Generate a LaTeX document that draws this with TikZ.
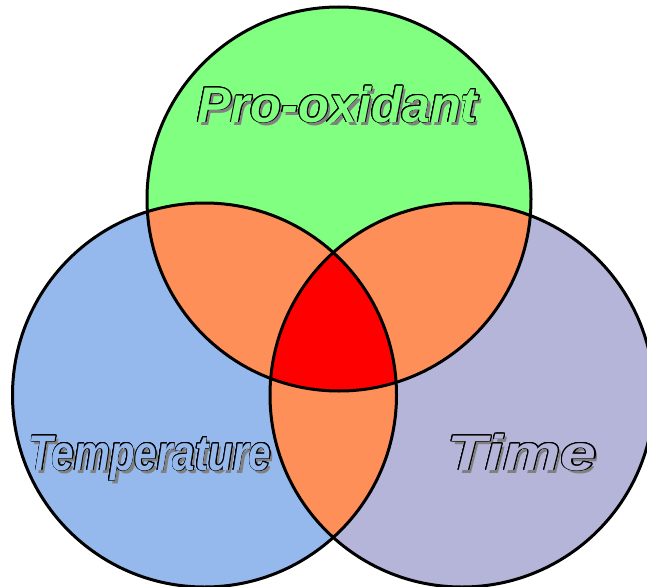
\documentclass[tikz,border=0pt]{standalone}
\usepackage{fontspec}
\setmainfont{Liberation Sans}
\usepackage{contour}
\contourlength{0.9pt}
\contournumber{16}
\definecolor{cgreen}{RGB}{128,255,128}
\definecolor{cblue}{RGB}{149,185,236}
\definecolor{cpurple}{RGB}{181,181,217}
\definecolor{corange}{RGB}{255,143,89}
\definecolor{cred}{RGB}{255,0,0}
\definecolor{cshadow}{RGB}{128,128,128}
\tikzset{
  wordart/.style={font=\fontsize{50}{50}\selectfont\bfseries\itshape, inner sep=0pt, anchor=base, transform shape},
  ring/.style={draw=black, line width=3pt},
}
\begin{document}
\begin{tikzpicture}[x=1pt,y=-1pt]
\useasboundingbox (0,0) rectangle (647,586);
\coordinate (G) at (339,199);
\coordinate (B) at (204.5,395);
\coordinate (P) at (462,395);
\def\R{192pt}
% base fills
\fill[cblue] (B) circle[radius=\R];
\fill[cpurple] (P) circle[radius=\R];
\fill[cgreen] (G) circle[radius=\R];
% pairwise overlaps
\begin{scope}
  \clip (G) circle[radius=\R];
  \fill[corange] (B) circle[radius=\R];
  \fill[corange] (P) circle[radius=\R];
  \clip (B) circle[radius=\R];
  \fill[cred] (P) circle[radius=\R];
\end{scope}
\begin{scope}
  \clip (B) circle[radius=\R];
  \fill[corange] (P) circle[radius=\R];
  \clip (G) circle[radius=\R];
  \fill[cred] (P) circle[radius=\R];
\end{scope}
% outlines
\draw[ring] (G) circle[radius=\R];
\draw[ring] (B) circle[radius=\R];
\draw[ring] (P) circle[radius=\R];
% labels: shadow then outlined text
\node[wordart, text=cshadow, xscale=1.01] (proS) at (340.5,125) {Pro-oxidant};
\node[wordart, text=cgreen, xscale=1.01] (pro) at (337.5,122) {\contour{black}{Pro-oxidant}};
\node[wordart, text=cshadow, xscale=0.805] (tempS) at (153,473) {Temperature};
\node[wordart, text=cblue, xscale=0.805] (temp) at (150,470) {\contour{black}{Temperature}};
\node[wordart, text=cshadow, xscale=1.29] (timeS) at (525,473) {Time};
\node[wordart, text=cpurple, xscale=1.29] (time) at (522,470) {\contour{black}{Time}};
\end{tikzpicture}
\end{document}
